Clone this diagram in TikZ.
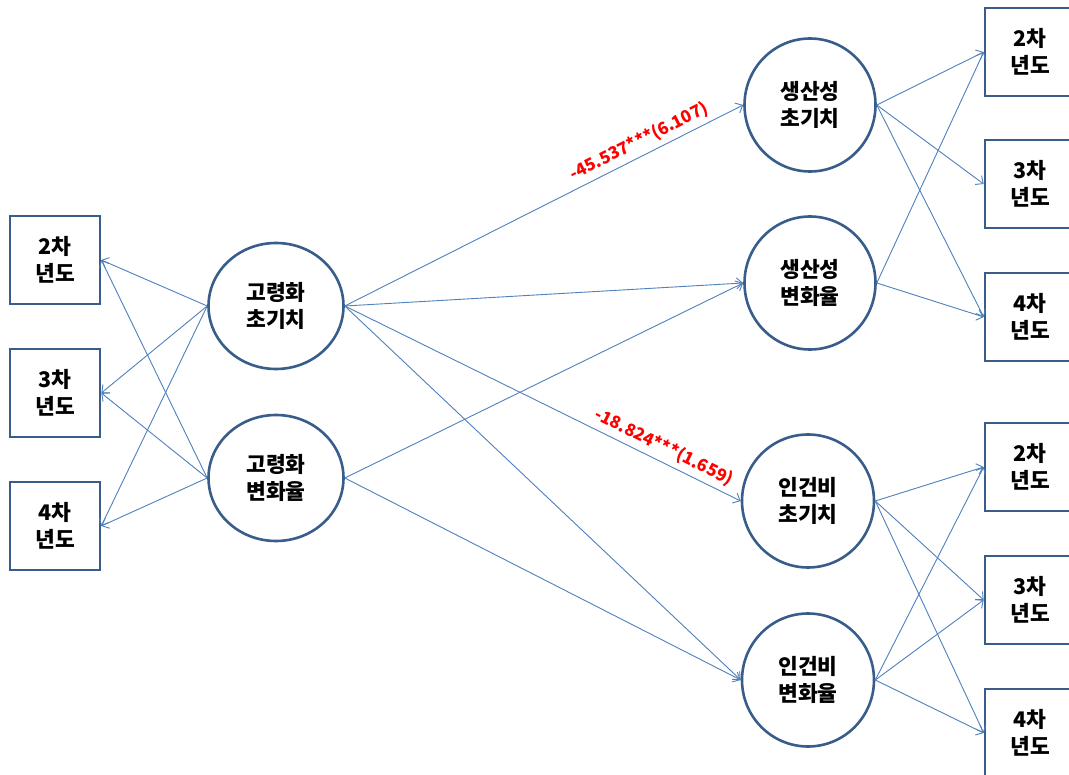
\documentclass[tikz,border=0pt]{standalone}
\usepackage{fontspec}
\setmainfont{Noto Sans CJK KR}
\usetikzlibrary{shapes.geometric,arrows.meta}
\definecolor{lineblue}{HTML}{4F81BD}
\definecolor{borderblue}{HTML}{385D8A}
\begin{document}
\begin{tikzpicture}[x=1pt,y=-1pt,
  latent/.style={ellipse, draw=borderblue, line width=2.6pt, fill=white, inner sep=0pt,
    align=center, font=\fontsize{21.5}{27}\selectfont\bfseries},
  obsbox/.style={rectangle, draw=borderblue, line width=2.6pt, fill=white,
    minimum width=90pt, minimum height=88pt, inner sep=0pt, align=center,
    font=\fontsize{21.5}{27}\selectfont\bfseries},
  conn/.style={draw=lineblue, line width=0.9pt, -{Straight Barb[length=6pt,width=11pt]}},
  coef/.style={font=\fontsize{17}{17}\selectfont\bfseries, text=red, sloped, above=4pt, inner sep=1pt}
]
\useasboundingbox (0,0) rectangle (1069,775);
\fill[white] (0,0) rectangle (1069,775);

% left boxes
\node[obsbox] (L2) at (55,260) {2차\\년도};
\node[obsbox] (L3) at (55,393) {3차\\년도};
\node[obsbox] (L4) at (55,526) {4차\\년도};

% left latent
\node[latent, minimum width=135pt, minimum height=126pt] (AI) at (276,306) {고령화\\초기치};
\node[latent, minimum width=135pt, minimum height=126pt] (AC) at (276,478) {고령화\\변화율};

% right latent
\node[latent, minimum width=131pt, minimum height=133pt] (PI) at (810,105) {생산성\\초기치};
\node[latent, minimum width=131pt, minimum height=133pt] (PC) at (810,283) {생산성\\변화율};
\node[latent, minimum width=132pt, minimum height=133pt] (WI) at (808,501) {인건비\\초기치};
\node[latent, minimum width=132pt, minimum height=133pt] (WC) at (808,680) {인건비\\변화율};

% right boxes
\node[obsbox] (P2) at (1030,52) {2차\\년도};
\node[obsbox] (P3) at (1030,184) {3차\\년도};
\node[obsbox] (P4) at (1030,317) {4차\\년도};
\node[obsbox] (W2) at (1030,467) {2차\\년도};
\node[obsbox] (W3) at (1030,600) {3차\\년도};
\node[obsbox] (W4) at (1030,733) {4차\\년도};

% left connectors
\foreach \s in {AI,AC}{
  \foreach \t in {L2,L3,L4}{
    \draw[conn] (\s.west) -- (\t.east);
  }
}

% middle connectors
\draw[conn] (AI.east) -- node[coef, pos=0.755] {-45.537***(6.107)} (PI.west);
\draw[conn] (AI.east) -- (PC.west);
\draw[conn] (AI.east) -- node[coef, pos=0.79] {-18.824***(1.659)} (WI.west);
\draw[conn] (AI.east) -- (WC.west);
\draw[conn] (AC.east) -- (PC.west);
\draw[conn] (AC.east) -- (WC.west);

% right connectors
\draw[conn] (PI.east) -- (P2.west);
\draw[conn] (PI.east) -- (P3.west);
\draw[conn] (PI.east) -- (P4.west);
\draw[conn] (PC.east) -- (P2.west);
\draw[conn] (PC.east) -- (P4.west);
\foreach \s in {WI,WC}{
  \foreach \t in {W2,W3,W4}{
    \draw[conn] (\s.east) -- (\t.west);
  }
}
\end{tikzpicture}
\end{document}
